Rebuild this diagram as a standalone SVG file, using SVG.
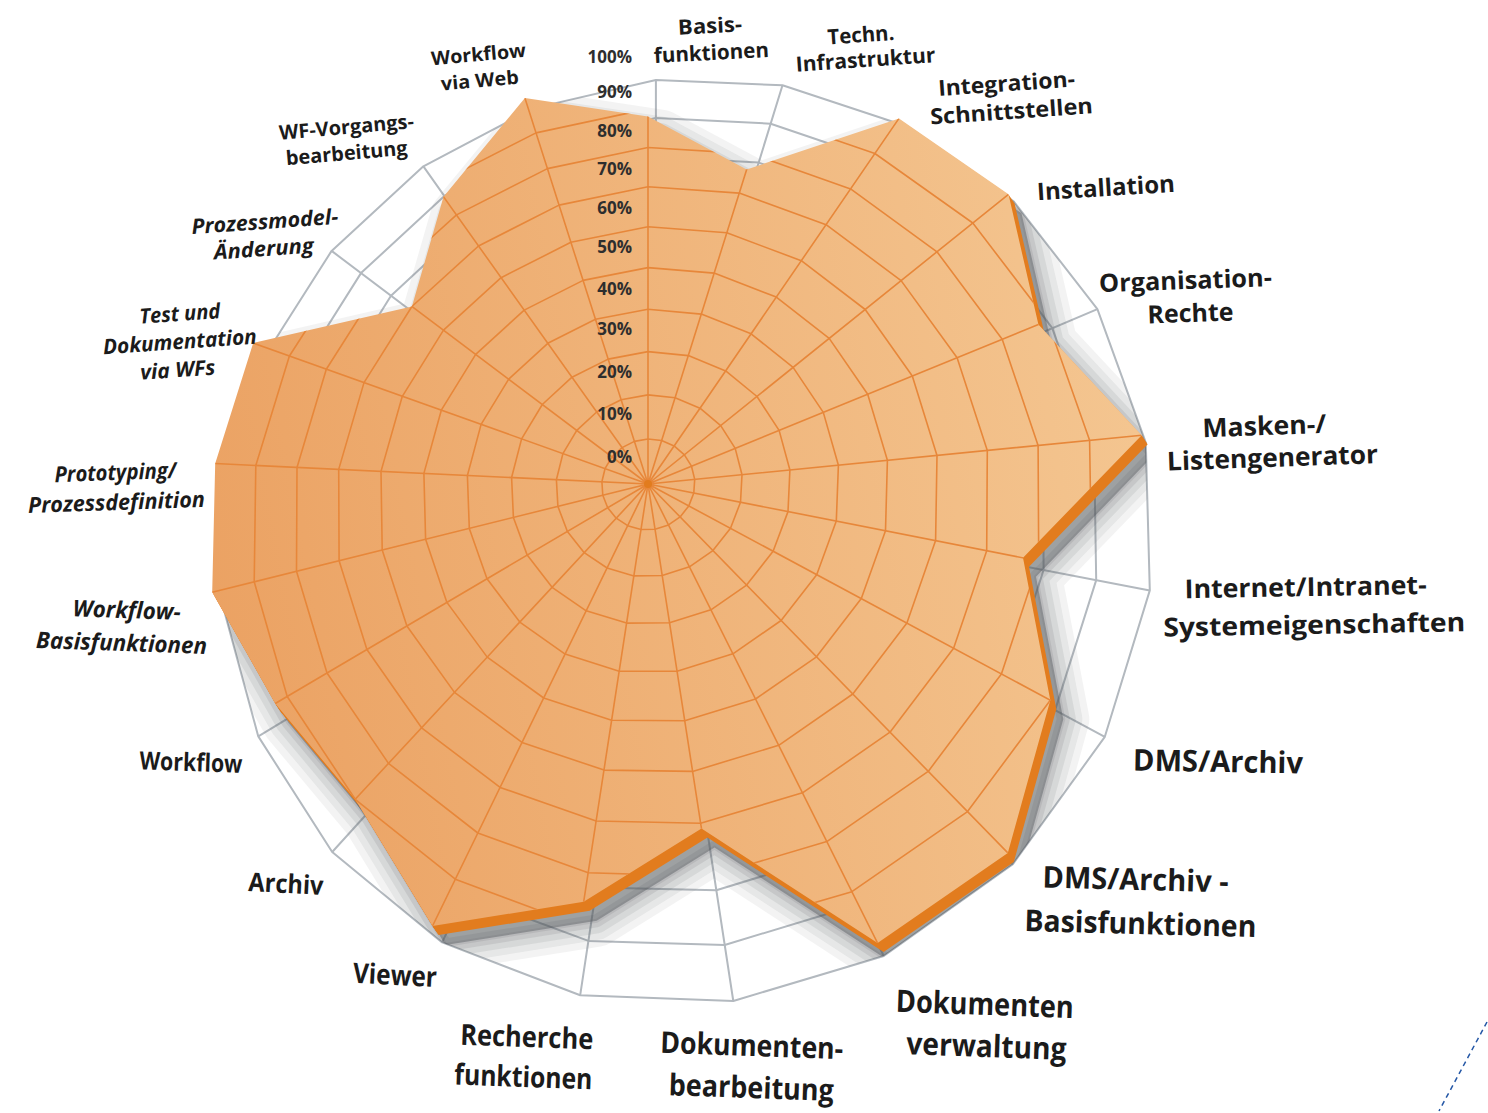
<svg xmlns="http://www.w3.org/2000/svg" width="1488" height="1113" viewBox="0 0 1488 1113">
<style>
.lbl{font-family:"Open Sans","Noto Sans","DejaVu Sans",sans-serif;font-weight:700;fill:#1b1b1b;text-anchor:middle}
.it{font-style:italic}
.pct{font-family:"Open Sans","Noto Sans","DejaVu Sans",sans-serif;font-weight:700;font-size:17px;fill:#2e2e2e;text-anchor:end}
.gw{fill:none;stroke:#b3b9bf;stroke-width:2;stroke-linejoin:round}
.ow{fill:none;stroke:#e7873a;stroke-width:1.6;stroke-linejoin:round}
.sh{fill:none;stroke:#50555b;stroke-linejoin:round}
</style>
<defs>
<polygon id="face" points="648,116.6 746.7,169.5 899,118.4 1008.5,194.3 1038.4,324.5 1141.7,435.2 1023,557.8 1050.3,700.2 1007.8,852.9 877.6,943.1 701.5,828.6 583.7,901.8 432.5,926 355.2,799.3 275.2,703.5 212.2,592.2 215.2,463.5 253.2,343 411.9,306.5 443.5,196.7 524.9,98"/>
<clipPath id="faceClip"><polygon points="648,116.6 746.7,169.5 899,118.4 1008.5,194.3 1038.4,324.5 1141.7,435.2 1023,557.8 1050.3,700.2 1007.8,852.9 877.6,943.1 701.5,828.6 583.7,901.8 432.5,926 355.2,799.3 275.2,703.5 212.2,592.2 215.2,463.5 253.2,343 411.9,306.5 443.5,196.7 524.9,98"/></clipPath>
<clipPath id="webClip"><polygon points="655.9,80 782.5,85.3 905,125.7 1013.6,201.3 1097.4,309.2 1145.8,442.6 1149.8,590.4 1104.8,736.8 1012.9,864.2 883.8,956 733.3,1001 580.2,995.2 442.1,942.4 332.2,852 258.3,736.4 223.4,608.1 226.5,478.5 264.1,357 331.6,250.9 423.4,166.3 533.8,108.1"/></clipPath>
<linearGradient id="faceGrad" gradientUnits="userSpaceOnUse" x1="200" y1="560" x2="1150" y2="380">
<stop offset="0" stop-color="#eba263"/>
<stop offset="1" stop-color="#f4c691"/>
</linearGradient>
</defs>
<rect width="1488" height="1113" fill="#ffffff"/>

<g id="web-base">
<polygon class="gw" points="655.9,80 782.5,85.3 905,125.7 1013.6,201.3 1097.4,309.2 1145.8,442.6 1149.8,590.4 1104.8,736.8 1012.9,864.2 883.8,956 733.3,1001 580.2,995.2 442.1,942.4 332.2,852 258.3,736.4 223.4,608.1 226.5,478.5 264.1,357 331.6,250.9 423.4,166.3 533.8,108.1"/>
<polygon class="gw" points="655.9,118.1 770.7,123.7 881.1,161.2 978.2,230.4 1052.3,328.2 1094.1,448.2 1096.2,580.1 1055.1,710.1 972.9,822.9 858.2,904.5 724.7,945 588.4,940.9 464.7,895.1 365.4,815.4 297.8,712.5 265.1,597.3 266.8,480.1 300.1,369.7 361,273.1 444.4,196 544.8,143.2"/>
<polygon class="gw" points="655.9,157 758.7,162.6 856.9,197.1 942.7,259.6 1007.3,347.2 1043,453.8 1043.6,570 1006.5,684 934,782.7 833.4,854.2 716.3,890.3 596.5,887.6 487,848.4 398.4,779.1 337.4,688.5 307.1,586.4 307.6,481.8 336.7,382.7 391,295.7 465.8,226.4 556.1,179"/>
<polygon class="gw" points="655.9,196.5 746.5,202.1 832.6,233.3 907.1,288.9 962.6,366.1 992.5,459.2 992,560.1 959.1,658.6 896.1,743.6 809.2,805.3 708.1,836.9 604.4,835.3 509.1,802.3 431.3,742.9 377,664.5 349.4,575.4 349,483.4 374.1,395.9 421.6,318.9 487.8,257.4 567.6,215.6"/>
<polygon class="gw" points="655.9,236.8 734.1,242.2 808,269.7 871.4,318.3 918.1,384.9 942.7,464.6 941.3,550.4 912.8,633.7 859.1,705.4 785.6,757.7 700.2,784.7 612.2,784 530.9,756.8 463.9,707 416.7,640.5 392.1,564.3 391,485.1 412.1,409.4 453,342.5 510.2,289.2 579.4,253"/>
<path class="gw" d="M655.9,495.7L655.9,80M655.9,495.7L782.5,85.3M655.9,495.7L905,125.7M655.9,495.7L1013.6,201.3M655.9,495.7L1097.4,309.2M655.9,495.7L1145.8,442.6M655.9,495.7L1149.8,590.4M655.9,495.7L1104.8,736.8M655.9,495.7L1012.9,864.2M655.9,495.7L883.8,956M655.9,495.7L733.3,1001M655.9,495.7L580.2,995.2M655.9,495.7L442.1,942.4M655.9,495.7L332.2,852M655.9,495.7L258.3,736.4M655.9,495.7L223.4,608.1M655.9,495.7L226.5,478.5M655.9,495.7L264.1,357M655.9,495.7L331.6,250.9M655.9,495.7L423.4,166.3M655.9,495.7L533.8,108.1"/>
</g>

<g id="shadow" clip-path="url(#webClip)">
<use href="#face" transform="translate(13,19)" fill="#50555b" fill-opacity="0.42"/>
<use href="#face" transform="translate(13,19)" class="sh" stroke-width="52" stroke-opacity="0.07"/>
<use href="#face" transform="translate(13,19)" class="sh" stroke-width="38" stroke-opacity="0.08"/>
<use href="#face" transform="translate(13,19)" class="sh" stroke-width="25" stroke-opacity="0.1"/>
<use href="#face" transform="translate(13,19)" class="sh" stroke-width="13" stroke-opacity="0.12"/>
<use href="#face" transform="translate(13,19)" class="sh" stroke-width="4" stroke-opacity="0.12"/>
</g>

<g id="extrusion" fill="#e27c1e">
<use href="#face" transform="translate(1,1.5)"/>
<use href="#face" transform="translate(2,3)"/>
<use href="#face" transform="translate(3,4.5)"/>
<use href="#face" transform="translate(4,6)"/>
<use href="#face" transform="translate(5,7.5)"/>
<use href="#face" transform="translate(6,9)"/>
</g>

<g id="face-top">
<use href="#face" fill="url(#faceGrad)"/>
</g>

<g id="face-grid" clip-path="url(#faceClip)">
<polygon class="ow" points="648,439 661.6,440.5 674.1,445.9 684.4,454.8 691.5,466.2 694.7,479.4 693.8,493 688.8,505.9 680.1,516.9 668.5,524.9 655,529.3 641,529.5 627.7,525.7 616.2,518.2 607.7,507.7 602.8,495.2 601.9,481.8 605,468.7 612,456.9 622.1,447.6 634.4,441.4"/>
<polygon class="ow" points="648,394.9 675.1,397.7 700,408.2 720.7,425.6 735.2,448.4 742,474.7 740.5,502.2 730.5,528.3 712.9,550.6 689.4,566.8 662.2,575.5 633.9,575.9 607.1,568 584.2,552.7 567.4,531.5 557.9,506.4 556.4,479.7 562.9,453.6 576.8,430.4 596.7,412 621.1,399.8"/>
<polygon class="ow" points="648,351.6 688.3,355.6 725.7,370.9 757,396.5 779.1,430.4 789.9,470 788,511.6 773.1,551.2 746.6,585.1 710.9,609.8 669.5,622.8 626.6,623.1 586.2,610.8 552.1,587.3 527.2,555.1 513.4,517.4 511.6,477.5 521.6,438.9 542.3,404.5 572,377.2 608.2,359.1"/>
<polygon class="ow" points="648,309.2 701.3,314.1 751.1,333.8 793.1,367.4 823.3,412.4 838.4,465.2 836.3,521.1 816.7,574.7 781.1,620.5 732.9,653.8 677.1,671.2 619.2,671.2 565.1,654.1 519.8,622.1 487,578.8 469.3,528.4 467.4,475.5 481.1,424.4 508.7,379.2 547.8,343.3 595.5,319.3"/>
<polygon class="ow" points="648,267.6 714.1,273.1 776.3,297.1 829.2,338.4 867.7,394.3 887.4,460.3 885.5,530.8 861.3,598.6 816.5,656.8 755.5,699 684.7,720.8 611.6,720.2 543.7,698 487.2,657.1 446.9,602.4 425.6,539.2 423.9,473.4 441.3,410.2 475.7,354.4 524.2,310.1 583.1,280.4"/>
<polygon class="ow" points="648,226.8 726.8,232.8 801.3,260.7 865.2,309.5 912.3,376 937,455.4 935.6,540.6 906.9,623.1 852.8,694 778.7,745.3 692.6,771.4 604,770.1 522,742.4 454.5,692.4 406.9,626 382.2,550 381,471.4 402.3,396.3 443.5,330.2 501.1,277.7 570.9,242.3"/>
<polygon class="ow" points="648,186.8 739.3,193.1 826.1,224.7 901.1,280.6 957.1,357.7 987.3,450.5 986.7,550.7 953.6,648.2 890,732.2 802.5,792.8 700.6,823.3 596.1,821 500.1,787.4 421.6,727.8 366.9,649.5 339.1,560.7 338.7,469.4 364,382.6 411.9,306.5 478.5,246 559,205.1"/>
<polygon class="ow" points="648,147.5 751.6,153.9 850.6,188.9 937,251.8 1002.2,339.3 1038.1,445.4 1038.7,560.9 1001.4,673.9 928.2,771.4 826.8,841.6 708.9,876.4 588.2,872.8 477.8,833 388.5,763.4 327,673 296.5,571.3 297,467.4 326.3,369.2 381,283.2 456.5,214.9 547.4,168.6"/>
<polygon class="ow" points="648,108.9 763.7,115.3 874.9,153.5 972.8,223 1047.5,320.8 1089.6,440.3 1091.7,571.4 1050.3,700.2 967.5,811.6 851.9,891.7 717.3,930.9 580,925.7 455.3,879.2 355.2,799.3 287.2,696.5 254.2,581.8 255.8,465.4 289.4,356 350.8,260.5 434.9,184.6 536,132.9"/>
<path class="ow" d="M648,484L648,71M648,484L775.6,77.3M648,484L899,118.4M648,484L1008.5,194.3M648,484L1093,302.2M648,484L1141.7,435.2M648,484L1145.7,582M648,484L1100.4,727.1M648,484L1007.8,852.9M648,484L877.6,943.1M648,484L726,986.6M648,484L571.7,979.6M648,484L432.5,926M648,484L321.7,835.3M648,484L247.4,719.9M648,484L212.2,592.2M648,484L215.2,463.5M648,484L253.2,343M648,484L321.2,238.2M648,484L413.7,154.9M648,484L524.9,98"/>
</g>
<circle id="center-dot" cx="648" cy="484" r="4" fill="#e27c1e"/>

<g id="percent-labels">
<text class="pct" x="632" y="63">100%</text>
<text class="pct" x="632" y="98">90%</text>
<text class="pct" x="632" y="137">80%</text>
<text class="pct" x="632" y="175">70%</text>
<text class="pct" x="632" y="214">60%</text>
<text class="pct" x="632" y="253">50%</text>
<text class="pct" x="632" y="295">40%</text>
<text class="pct" x="632" y="335">30%</text>
<text class="pct" x="632" y="378">20%</text>
<text class="pct" x="632" y="420">10%</text>
<text class="pct" x="632" y="463">0%</text>
</g>

<g id="axis-labels">
<g id="lbl-basisfunktionen" transform="rotate(-3 711 46)">
<text class="lbl" x="711" y="33" font-size="21" textLength="64" lengthAdjust="spacingAndGlyphs">Basis-</text>
<text class="lbl" x="711" y="60" font-size="21" textLength="115" lengthAdjust="spacingAndGlyphs">funktionen</text>
</g>
<g id="lbl-techn" transform="rotate(-4 864 52)">
<text class="lbl" x="862" y="42" font-size="21" textLength="67" lengthAdjust="spacingAndGlyphs">Techn.</text>
<text class="lbl" x="865" y="67" font-size="21" textLength="140" lengthAdjust="spacingAndGlyphs">Infrastruktur</text>
</g>
<g id="lbl-integration" transform="rotate(-4 1010 105)">
<text class="lbl" x="1008" y="91" font-size="22" textLength="137" lengthAdjust="spacingAndGlyphs">Integration-</text>
<text class="lbl" x="1011" y="119" font-size="22" textLength="163" lengthAdjust="spacingAndGlyphs">Schnittstellen</text>
</g>
<g id="lbl-installation" transform="rotate(-3.5 1106 190)">
<text class="lbl" x="1106" y="196" font-size="24" textLength="138" lengthAdjust="spacingAndGlyphs">Installation</text>
</g>
<g id="lbl-organisation" transform="rotate(-2 1188 298)">
<text class="lbl" x="1186" y="289" font-size="25" textLength="173" lengthAdjust="spacingAndGlyphs">Organisation-</text>
<text class="lbl" x="1190" y="322" font-size="25" textLength="86" lengthAdjust="spacingAndGlyphs">Rechte</text>
</g>
<g id="lbl-masken" transform="rotate(-2 1268 445)">
<text class="lbl" x="1265" y="435" font-size="26" textLength="124" lengthAdjust="spacingAndGlyphs">Masken-/</text>
<text class="lbl" x="1272" y="467" font-size="26" textLength="211" lengthAdjust="spacingAndGlyphs">Listengenerator</text>
</g>
<g id="lbl-internet" transform="rotate(-1 1310 610)">
<text class="lbl" x="1306" y="596" font-size="26" textLength="242" lengthAdjust="spacingAndGlyphs">Internet/Intranet-</text>
<text class="lbl" x="1314" y="634" font-size="26" textLength="302" lengthAdjust="spacingAndGlyphs">Systemeigenschaften</text>
</g>
<g id="lbl-dms" transform="rotate(1 1218 761)">
<text class="lbl" x="1218" y="772" font-size="30" textLength="170" lengthAdjust="spacingAndGlyphs">DMS/Archiv</text>
</g>
<g id="lbl-dms-basis" transform="rotate(1.5 1138 900)">
<text class="lbl" x="1135" y="890" font-size="30" textLength="186" lengthAdjust="spacingAndGlyphs">DMS/Archiv -</text>
<text class="lbl" x="1141" y="934" font-size="30" textLength="232" lengthAdjust="spacingAndGlyphs">Basisfunktionen</text>
</g>
<g id="lbl-dokverwaltung" transform="rotate(2 985 1030)">
<text class="lbl" x="984" y="1015" font-size="31" textLength="178" lengthAdjust="spacingAndGlyphs">Dokumenten</text>
<text class="lbl" x="987" y="1057" font-size="31" textLength="160" lengthAdjust="spacingAndGlyphs">verwaltung</text>
</g>
<g id="lbl-dokbearbeitung" transform="rotate(2 751 1070)">
<text class="lbl" x="751" y="1056" font-size="30" textLength="183" lengthAdjust="spacingAndGlyphs">Dokumenten-</text>
<text class="lbl" x="752" y="1098" font-size="30" textLength="165" lengthAdjust="spacingAndGlyphs">bearbeitung</text>
</g>
<g id="lbl-recherche" transform="rotate(2 525 1060)">
<text class="lbl" x="526" y="1047" font-size="29" textLength="133" lengthAdjust="spacingAndGlyphs">Recherche</text>
<text class="lbl" x="524" y="1087" font-size="29" textLength="138" lengthAdjust="spacingAndGlyphs">funktionen</text>
</g>
<g id="lbl-viewer" transform="rotate(3 395 975)">
<text class="lbl" x="395" y="985" font-size="28" textLength="84" lengthAdjust="spacingAndGlyphs">Viewer</text>
</g>
<g id="lbl-archiv" transform="rotate(3 286 884)">
<text class="lbl" x="286" y="893" font-size="26" textLength="75" lengthAdjust="spacingAndGlyphs">Archiv</text>
</g>
<g id="lbl-workflow" transform="rotate(2 191 761)">
<text class="lbl" x="191" y="771" font-size="25" textLength="103" lengthAdjust="spacingAndGlyphs">Workflow</text>
</g>
<g id="lbl-wf-basis" transform="rotate(2 124 630)">
<text class="lbl it" x="126" y="618" font-size="23" textLength="108" lengthAdjust="spacingAndGlyphs">Workflow-</text>
<text class="lbl it" x="122" y="651" font-size="23" textLength="171" lengthAdjust="spacingAndGlyphs">Basisfunktionen</text>
</g>
<g id="lbl-prototyping" transform="rotate(-2 116 490)">
<text class="lbl it" x="116" y="480" font-size="22" textLength="122" lengthAdjust="spacingAndGlyphs">Prototyping/</text>
<text class="lbl it" x="116" y="510" font-size="22" textLength="177" lengthAdjust="spacingAndGlyphs">Prozessdefinition</text>
</g>
<g id="lbl-test" transform="rotate(-4 180 345)">
<text class="lbl it" x="182" y="321" font-size="21" textLength="81" lengthAdjust="spacingAndGlyphs">Test und</text>
<text class="lbl it" x="180" y="349" font-size="21" textLength="154" lengthAdjust="spacingAndGlyphs">Dokumentation</text>
<text class="lbl it" x="176" y="377" font-size="21" textLength="75" lengthAdjust="spacingAndGlyphs">via WFs</text>
</g>
<g id="lbl-prozessmodel" transform="rotate(-4 265 240)">
<text class="lbl it" x="266" y="229" font-size="21" textLength="147" lengthAdjust="spacingAndGlyphs">Prozessmodel-</text>
<text class="lbl it" x="263" y="256" font-size="21" textLength="100" lengthAdjust="spacingAndGlyphs">Änderung</text>
</g>
<g id="lbl-wf-vorgang" transform="rotate(-5 347 145)">
<text class="lbl" x="348" y="134" font-size="20" textLength="135" lengthAdjust="spacingAndGlyphs">WF-Vorgangs-</text>
<text class="lbl" x="346" y="160" font-size="20" textLength="122" lengthAdjust="spacingAndGlyphs">bearbeitung</text>
</g>
<g id="lbl-wf-web" transform="rotate(-5 480 72)">
<text class="lbl" x="480" y="61" font-size="19" textLength="95" lengthAdjust="spacingAndGlyphs">Workflow</text>
<text class="lbl" x="479" y="87" font-size="19" textLength="78" lengthAdjust="spacingAndGlyphs">via Web</text>
</g>
</g>

<line id="edge-dash" x1="1487" y1="1022" x2="1439" y2="1111" stroke="#2457a6" stroke-width="1.5" stroke-dasharray="5 4"/>
</svg>
